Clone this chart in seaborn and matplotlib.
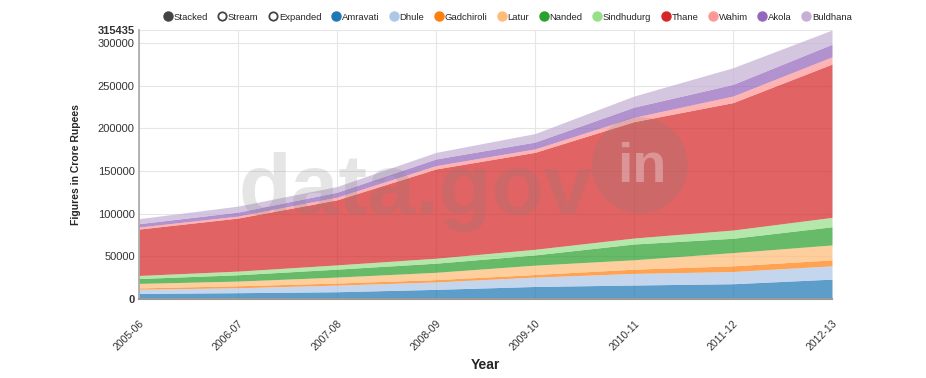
import numpy as np
import pandas as pd
import matplotlib
matplotlib.use("Agg")
import matplotlib.pyplot as plt
from matplotlib.lines import Line2D
from matplotlib.patches import Ellipse
import seaborn as sns

# values (crore rupees)
years = ["2005-06", "2006-07", "2007-08", "2008-09", "2009-10", "2010-11", "2011-12", "2012-13"]
districts = ["Amravati", "Dhule", "Gadchiroli", "Latur", "Nanded", "Sindhudurg",
             "Thane", "Wahim", "Akola", "Buldhana"]

amravati = [6500, 7400, 8500, 11300, 14700, 16400, 17900, 23300]
dhule = [5000, 5800, 7800, 8700, 11000, 13600, 14300, 15600]
gadchiroli = [1500, 2300, 2400, 2700, 3000, 5000, 6700, 7000]
latur = [5300, 5500, 7000, 8600, 11000, 11000, 15500, 17500]
nanded = [5700, 7400, 9300, 10700, 12000, 18500, 16800, 21300]
sindhudurg = [3600, 4300, 5000, 5800, 6600, 7000, 9700, 11000]
thane = [54400, 62200, 76300, 104700, 113700, 136500, 149400, 179800]
wahim = [2400, 2300, 3100, 3900, 4000, 5000, 7700, 8500]
akola = [3900, 4700, 5800, 7800, 8000, 12000, 13700, 14800]
buldhana = [5900, 7000, 6700, 7700, 10000, 13000, 19500, 16635]

data = pd.DataFrame({
    "Amravati": amravati, "Dhule": dhule, "Gadchiroli": gadchiroli, "Latur": latur,
    "Nanded": nanded, "Sindhudurg": sindhudurg, "Thane": thane, "Wahim": wahim,
    "Akola": akola, "Buldhana": buldhana,
}, index=years)

sns.set_theme(style="white")
plt.rcParams["font.family"] = ["Liberation Sans", "DejaVu Sans"]
colors = sns.color_palette("tab20", 10)

fig = plt.figure(figsize=(9.26, 3.78), dpi=100)
ax = fig.add_axes([0.150, 0.209, 0.7485, 0.7116])

x = np.arange(len(years))
ax.stackplot(x, [data[d].values for d in districts], colors=colors, alpha=0.72, lw=0)

total = data.sum(axis=1).max()
ax.set_xlim(0, len(years) - 1)
ax.set_ylim(0, total)

ticks = [0, 50000, 100000, 150000, 200000, 250000, 300000]
ax.set_yticks(ticks + [total])
ax.set_yticklabels([str(t) for t in ticks] + [str(int(total))])
for lab in ax.get_yticklabels():
    lab.set_fontsize(8)
    lab.set_color("#333333")
ax.get_yticklabels()[0].set_fontweight("bold")
ax.get_yticklabels()[-1].set_fontweight("bold")
ax.tick_params(axis="y", length=0, pad=3)

ax.set_xticks(x)
ax.set_xticklabels(years, rotation=45, ha="right", rotation_mode="anchor", fontsize=7.5, color="#333333")
ax.tick_params(axis="x", length=0, pad=14)

ax.grid(True, color="#e6e6e6", lw=0.8)
ax.set_axisbelow(True)
for s in ["top", "right"]:
    ax.spines[s].set_visible(False)
ax.spines["left"].set_color("#aaaaaa")
ax.spines["bottom"].set_color("#999999")
ax.spines["bottom"].set_linewidth(1.5)

ax.set_xlabel("Year", fontsize=10, fontweight="bold", labelpad=4)
ax.set_ylabel("Figures in Crore Rupees", fontsize=7.5, fontweight="bold", labelpad=12)

# watermark
fig.text(0.258, 0.435, "data.gov", fontsize=62, fontweight="bold", color="#808080", alpha=0.2, zorder=10)
wm = Ellipse((0.691, 0.563), 96 / 926, 96 / 378, transform=fig.transFigure, color="#808080", alpha=0.2,
             zorder=10, lw=0)
fig.patches.append(wm)
fig.text(0.693, 0.555, "in", fontsize=40, fontweight="bold", color="white", alpha=0.3,
         ha="center", va="center", zorder=11)

# legend along the top
handles = [
    Line2D([], [], marker="o", ls="", markersize=6.5, markerfacecolor="#444444", markeredgecolor="#444444"),
    Line2D([], [], marker="o", ls="", markersize=6, markerfacecolor="white", markeredgecolor="#444444", markeredgewidth=1.3),
    Line2D([], [], marker="o", ls="", markersize=6, markerfacecolor="white", markeredgecolor="#444444", markeredgewidth=1.3),
]
handles += [Line2D([], [], marker="o", ls="", markersize=6.5, markerfacecolor=c, markeredgecolor=c) for c in colors]
labels = ["Stacked", "Stream", "Expanded"] + districts
fig.legend(handles, labels, loc="center", bbox_to_anchor=(0.548, 0.955), ncol=len(labels), frameon=False,
           fontsize=6.8, handletextpad=0.1, columnspacing=1.05, handlelength=1.0, borderaxespad=0)

fig.savefig("out.png", dpi=100)
